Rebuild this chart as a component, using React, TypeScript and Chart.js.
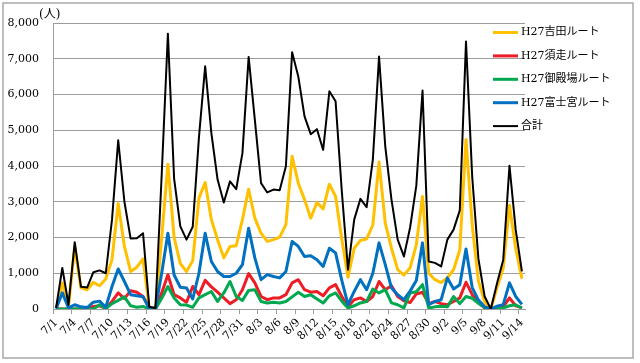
import React, { useEffect, useRef } from 'react';
import { Chart, registerables } from 'chart.js';

Chart.register(...registerables);

const dates = [
  '7/1', '7/2', '7/3', '7/4', '7/5', '7/6', '7/7', '7/8', '7/9', '7/10',
  '7/11', '7/12', '7/13', '7/14', '7/15', '7/16', '7/17', '7/18', '7/19', '7/20',
  '7/21', '7/22', '7/23', '7/24', '7/25', '7/26', '7/27', '7/28', '7/29', '7/30',
  '7/31', '8/1', '8/2', '8/3', '8/4', '8/5', '8/6', '8/7', '8/8', '8/9',
  '8/10', '8/11', '8/12', '8/13', '8/14', '8/15', '8/16', '8/17', '8/18', '8/19',
  '8/20', '8/21', '8/22', '8/23', '8/24', '8/25', '8/26', '8/27', '8/28', '8/29',
  '8/30', '8/31', '9/1', '9/2', '9/3', '9/4', '9/5', '9/6', '9/7', '9/8',
  '9/9', '9/10', '9/11', '9/12', '9/13', '9/14',
];

const yoshida = [
  20, 730, 80, 1750, 590, 540, 750, 650, 840, 1380,
  2950, 1750, 1050, 1170, 1400, 20, 0, 2000, 4050, 2000,
  1270, 1050, 1350, 3100, 3540, 2500, 1940, 1430, 1750, 1770,
  2500, 3350, 2540, 2120, 1890, 1940, 2010, 2360, 4270, 3520,
  3060, 2540, 2980, 2800, 3490, 3150, 1950, 890, 1700, 1920,
  1960, 2350, 4110, 2400, 1700, 1100, 950, 1150, 1800, 3150,
  1000, 820, 740, 870, 1100, 1650, 4740, 2350, 780, 200,
  0, 600, 1150, 2900, 1700, 850,
];

const subashiri = [
  0, 0, 0, 0, 0, 0, 70, 90, 20, 210,
  450, 290, 510, 470, 350, 20, 20, 450, 960, 400,
  310, 190, 630, 400, 800, 620, 470, 310, 150, 260,
  540, 990, 730, 350, 260, 310, 310, 400, 730, 820,
  540, 470, 490, 370, 590, 680, 350, 70, 260, 310,
  210, 350, 770, 540, 650, 350, 230, 180, 420, 470,
  150, 210, 150, 120, 210, 310, 750, 400, 180, 30,
  0, 20, 60, 310, 90, 40,
];

const gotemba = [
  0, 0, 0, 0, 0, 0, 0, 120, 10, 150,
  240, 340, 90, 50, 70, 10, 0, 300, 630, 310,
  120, 110, 50, 310, 400, 490, 210, 450, 770, 350,
  240, 520, 540, 210, 170, 190, 170, 210, 340, 470,
  350, 400, 280, 170, 370, 450, 220, 30, 90, 170,
  210, 560, 450, 540, 170, 120, 30, 450, 480, 680,
  30, 60, 80, 60, 350, 150, 350, 300, 160, 40,
  0, 20, 30, 90, 120, 20,
];

const fujinomiya = [
  10, 450, 30, 120, 60, 40, 190, 220, 50, 630,
  1120, 770, 400, 370, 340, 20, 10, 1000, 2120, 950,
  610, 590, 280, 1000, 2120, 1330, 1050, 910, 910, 1000,
  1240, 2260, 1430, 820, 960, 910, 870, 1050, 1890, 1750,
  1470, 1490, 1380, 1190, 1700, 1570, 800, 120, 490, 820,
  540, 1000, 1850, 1240, 590, 400, 260, 500, 800, 1850,
  120, 210, 260, 870, 560, 680, 1680, 600, 250, 60,
  0, 80, 120, 730, 350, 130,
];

const total = [
  30, 1150, 120, 1870, 620, 600, 1030, 1080, 1000, 2500,
  4720, 3000, 1970, 1980, 2120, 60, 30, 3750, 7700, 3650,
  2310, 1940, 2300, 4800, 6790, 4920, 3620, 2980, 3570, 3350,
  4360, 7050, 5290, 3520, 3260, 3340, 3320, 3990, 7180, 6500,
  5390, 4890, 5030, 4450, 6090, 5810, 3300, 1100, 2500, 3080,
  2850, 4180, 7060, 4550, 3060, 1940, 1470, 2280, 3450, 6110,
  1330, 1290, 1190, 1940, 2220, 2760, 7480, 3700, 1400, 350,
  0, 720, 1380, 4010, 2220, 1050,
];

const seriesNames = ['H27吉田ルート', 'H27須走ルート', 'H27御殿場ルート', 'H27富士宮ルート', '合計'];
const yTicks = [0, 1000, 2000, 3000, 4000, 5000, 6000, 7000, 8000];
const unitLabel = '(人)';

const SERIF = '"DejaVu Serif", "Noto Sans CJK JP", serif';
const GRID = '#9c9c9c';

export default function App() {
  const ref = useRef<HTMLCanvasElement>(null);

  useEffect(() => {
    document.body.style.margin = '0';
    const canvas = ref.current;
    if (!canvas) return;

    const decor = {
      id: 'decor',
      beforeDraw(chart: any) {
        const c = chart.ctx;
        c.save();
        c.fillStyle = '#ffffff';
        c.fillRect(0, 0, chart.width, chart.height);
        c.strokeStyle = '#a8a8a8';
        c.lineWidth = 1.5;
        c.strokeRect(3, 3, 630, 355);
        c.restore();
      },
      afterDraw(chart: any) {
        const c = chart.ctx;
        c.save();
        c.fillStyle = '#000';
        c.textBaseline = 'middle';
        c.textAlign = 'left';
        c.font = `12px ${SERIF}`;
        c.fillText(unitLabel, 39, 15);
        c.font = `11px ${SERIF}`;
        chart.data.datasets.forEach((ds: any, i: number) => {
          const y = 32.5 + i * 23.4;
          c.strokeStyle = ds.borderColor;
          c.lineWidth = ds.borderWidth;
          c.beginPath();
          c.moveTo(493, y);
          c.lineTo(518, y);
          c.stroke();
          c.fillText(ds.label, 521, y);
        });
        c.restore();
      },
    };

    const mk = (label: string, data: number[], color: string, width: number, order: number) => ({
      label,
      data,
      borderColor: color,
      backgroundColor: color,
      borderWidth: width,
      pointRadius: 0,
      tension: 0,
      borderJoinStyle: 'round' as const,
      fill: false,
      order,
    });

    const chart = new Chart(canvas, {
      type: 'line',
      data: {
        labels: dates,
        datasets: [
          mk(seriesNames[0], yoshida, '#FFC000', 3, 5),
          mk(seriesNames[1], subashiri, '#EE1C25', 3, 4),
          mk(seriesNames[2], gotemba, '#00A94F', 3, 3),
          mk(seriesNames[3], fujinomiya, '#0070C0', 3, 2),
          mk(seriesNames[4], total, '#000000', 2, 1),
        ],
      },
      options: {
        responsive: false,
        animation: false,
        layout: { padding: { top: 23, right: 115, left: 0, bottom: 0 } },
        plugins: { legend: { display: false }, tooltip: { enabled: false } },
        scales: {
          x: {
            type: 'category',
            offset: true,
            grid: {
              display: true,
              drawOnChartArea: false,
              drawTicks: true,
              tickLength: 5,
              offset: true,
              color: (ctx: any) => (ctx.index % 3 === 0 ? GRID : 'rgba(0,0,0,0)'),
            },
            border: { display: true, color: GRID, width: 1 },
            ticks: {
              autoSkip: false,
              minRotation: 45,
              maxRotation: 45,
              padding: 2,
              color: '#000',
              font: { family: SERIF, size: 11 },
              callback: (_v: any, i: number) => (i % 3 === 0 ? dates[i] : ''),
            },
            afterFit: (s: any) => { s.height = 54; },
          },
          y: {
            min: 0,
            max: 8000,
            afterBuildTicks: (s: any) => { s.ticks = yTicks.map((v) => ({ value: v })); },
            grid: { color: GRID, lineWidth: 1, drawTicks: false },
            border: { display: true, color: GRID, width: 1 },
            ticks: {
              padding: 14,
              color: '#000',
              font: { family: SERIF, size: 11 },
              callback: (v: any) => Number(v).toLocaleString('en-US'),
            },
            afterFit: (s: any) => { s.width = 53; },
          },
        },
      },
      plugins: [decor],
    });

    return () => chart.destroy();
  }, []);

  return (
    <div style={{ position: 'absolute', left: 0, top: 0, width: 640, height: 363 }}>
      <canvas ref={ref} width={640} height={363} style={{ display: 'block' }} />
    </div>
  );
}
